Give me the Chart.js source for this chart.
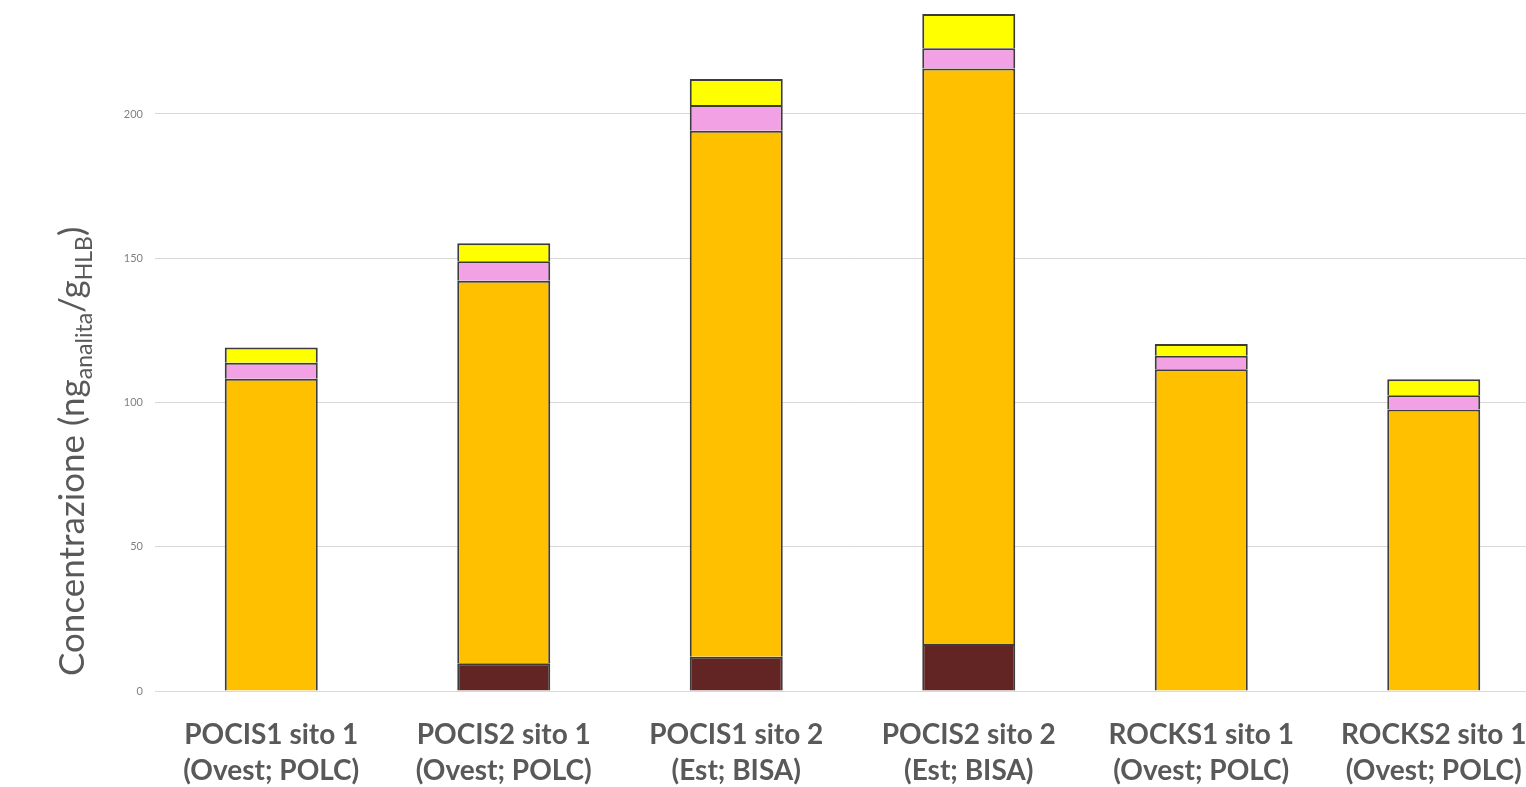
<!DOCTYPE html>
<html>
<head>
<meta charset="utf-8">
<script src="https://cdn.jsdelivr.net/npm/chart.js@4.4.1/dist/chart.umd.min.js"></script>
<style>
  html, body { margin: 0; padding: 0; background: #fff; overflow: hidden; }
  #wrap { position: absolute; left: 0; top: -20px; width: 1560px; height: 807px; }
</style>
</head>
<body>
<div id="wrap"><canvas id="chart"></canvas></div>
<script>
// values (ng analita / g HLB)
const categories = [
  ['POCIS1 sito 1', '(Ovest; POLC)'],
  ['POCIS2 sito 1', '(Ovest; POLC)'],
  ['POCIS1 sito 2', '(Est; BISA)'],
  ['POCIS2 sito 2', '(Est; BISA)'],
  ['ROCKS1 sito 1', '(Ovest; POLC)'],
  ['ROCKS2 sito 1', '(Ovest; POLC)'],
];
const serie1 = [null, 9.6, 11.9, 16.3, null, null];      // marrone scuro
const serie2 = [108.2, 132.6, 182.3, 199.5, 111.5, 97.6]; // arancio
const serie3 = [5.6, 6.8, 8.9, 7.0, 4.7, 4.9];            // rosa
const serie4 = [5.3, 6.2, 9.0, 11.9, 4.1, 5.6];           // giallo
const yTicks = [0, 50, 100, 150, 200];

const border = '#3c3c3c';
function ds(label, data, color) {
  return {
    label: label,
    data: data,
    backgroundColor: color,
    borderColor: border,
    borderWidth: 2,
    barPercentage: 0.4,
    categoryPercentage: 1.0,
  };
}

// rotated y title with subscripts
const yTitle = {
  id: 'yTitle',
  afterDraw(chart) {
    const ctx = chart.ctx;
    const big = '35px Lato';
    const small = '23px Lato';
    const parts = [
      ['Concentrazione (ng', big, 0],
      ['analita', small, 8],
      ['/g', big, 0],
      ['HLB', small, 8],
      [')', big, 0],
    ];
    ctx.save();
    ctx.translate(84, 696);
    ctx.rotate(-Math.PI / 2);
    ctx.fillStyle = '#595959';
    ctx.textBaseline = 'alphabetic';
    ctx.textAlign = 'left';
    let x = 0;
    parts.forEach(p => {
      ctx.font = p[1];
      ctx.fillText(p[0], x, p[2]);
      x += ctx.measureText(p[0]).width;
    });
    ctx.restore();
  }
};

let config = {
  type: 'bar',
  data: {
    labels: categories,
    datasets: [
      ds('Serie 1', serie1, '#632523'),
      ds('Serie 2', serie2, '#FFC000'),
      ds('Serie 3', serie3, '#F2A2E4'),
      ds('Serie 4', serie4, '#FFFF00'),
    ],
  },
  options: {
    responsive: true,
    maintainAspectRatio: false,
    animation: false,
    layout: { padding: { top: 18.6, right: 10, bottom: 0, left: 0 } },
    plugins: {
      legend: { display: false },
      tooltip: { enabled: false },
    },
    scales: {
      x: {
        stacked: true,
        grid: { display: false },
        border: { display: false },
        ticks: {
          color: '#595959',
          font: { family: 'Lato', size: 28, weight: 'bold', lineHeight: 1.28 },
          padding: 18,
          maxRotation: 0,
          autoSkip: false,
        },
        afterFit: s => { s.height = 96; },
      },
      y: {
        stacked: true,
        min: 0,
        max: 240,
        grid: { color: '#d9d9d9', lineWidth: 1, drawTicks: false },
        border: { display: false },
        ticks: {
          stepSize: 50,
          color: '#808080',
          font: { family: 'Lato', size: 11 },
          padding: 12,
        },
        afterBuildTicks: s => {
          s.ticks = yTicks.map(v => ({ value: v }));
        },
        afterFit: s => { s.width = 155; },
      },
    },
  },
  plugins: [yTitle],
};

let ctx = document.getElementById('chart').getContext('2d');
window.myBar = new Chart(ctx, config);
</script>
</body>
</html>
